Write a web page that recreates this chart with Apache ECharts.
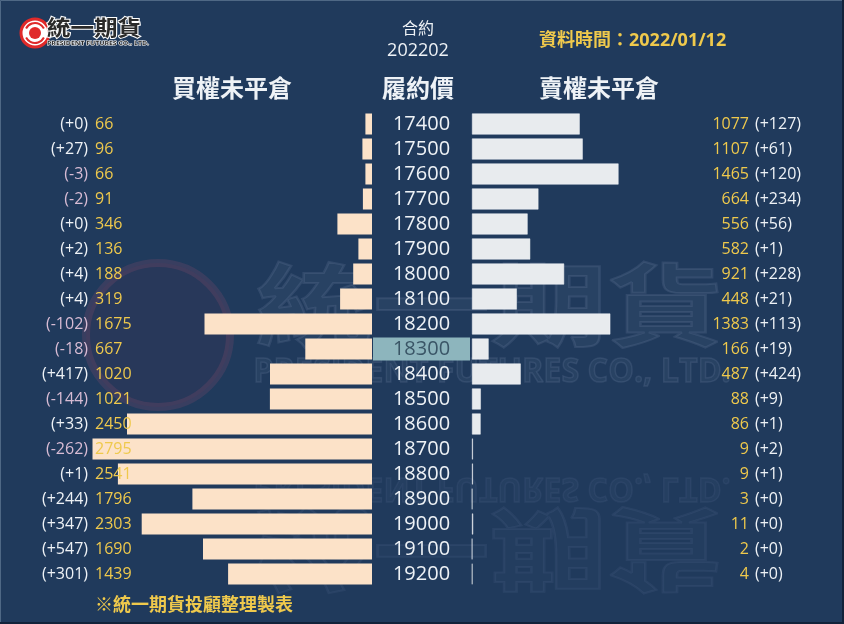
<!DOCTYPE html>
<html><head><meta charset="utf-8">
<script src="https://cdn.jsdelivr.net/npm/echarts@6/dist/echarts.min.js"></script>
<style>html,body{margin:0;padding:0;background:#203a5c;}#c{width:844px;height:624px;}</style>
</head><body><div id="c"></div>
<script>
const strikes = ['17400','17500','17600','17700','17800','17900','18000','18100','18200','18300','18400','18500','18600','18700','18800','18900','19000','19100','19200'];
const callOI  = [66,96,66,91,346,136,188,319,1675,667,1020,1021,2450,2795,2541,1796,2303,1690,1439];
const callChg = [0,27,-3,-2,0,2,4,4,-102,-18,417,-144,33,-262,1,244,347,547,301];
const putOI   = [1077,1107,1465,664,556,582,921,448,1383,166,487,88,86,9,9,3,11,2,4];
const putChg  = [127,61,120,234,56,1,228,21,113,19,424,9,1,2,1,0,0,0,0];
const atmStrike = '18300';
const contract = '202202';
const dataDate = '2022/01/12';

const FONT = "'Open Sans','Noto Sans CJK TC',sans-serif";
const CJK = "'Noto Sans CJK TC','Noto Sans',sans-serif";
const GOLD = '#efc94c';
const WHITE = '#eef2f6';
const NEG = '#d8bcd4';
const chgText = v => '(' + (v >= 0 ? '+' : '') + v + ')';

const chart = echarts.init(document.getElementById('c'), null, {renderer:'canvas'});
const TOP = 111.5, BOT = 37.5;
const hiddenY = (gi, extra) => Object.assign({
  type:'category', gridIndex:gi, data:strikes, inverse:true, z:10,
  axisLine:{show:false}, axisTick:{show:false}, splitLine:{show:false}
}, extra);

const option = {
  backgroundColor:'#203a5c',
  animation:false,
  grid:[
    {left:72, width:300, top:TOP, bottom:BOT},
    {left:472, width:300, top:TOP, bottom:BOT},
    {left:373, width:97, top:TOP, bottom:BOT}
  ],
  xAxis:[
    {type:'value', gridIndex:0, inverse:true, min:0, max:3000, show:false},
    {type:'value', gridIndex:1, min:0, max:3000, show:false},
    {type:'value', gridIndex:2, min:0, max:1, show:false}
  ],
  yAxis:[
    hiddenY(0, {position:'left', offset:-16, axisLabel:{margin:0, align:'right', fontFamily:FONT, fontSize:16,
      formatter:(v,i)=> (callChg[i] < 0 ? '{n|' : '{p|') + chgText(callChg[i]) + '}',
      rich:{p:{color:WHITE, fontFamily:FONT, fontSize:16}, n:{color:NEG, fontFamily:FONT, fontSize:16}}}}),
    hiddenY(0, {position:'left', offset:-23, axisLabel:{margin:0, align:'left', color:GOLD, fontFamily:FONT, fontSize:16,
      formatter:(v,i)=> String(callOI[i])}}),
    hiddenY(1, {position:'right', offset:-23, axisLabel:{margin:0, align:'right', color:GOLD, fontFamily:FONT, fontSize:16,
      formatter:(v,i)=> String(putOI[i])}}),
    hiddenY(1, {position:'right', offset:-17, axisLabel:{margin:0, align:'left', color:WHITE, fontFamily:FONT, fontSize:16,
      formatter:(v,i)=> chgText(putChg[i])}}),
    hiddenY(2, {axisLabel:{show:false}})
  ],
  series:[
    {type:'bar', xAxisIndex:0, yAxisIndex:0, data:callOI, barCategoryGap:'16%', z:2,
     itemStyle:{color:'#fce2c8'}, silent:true},
    {type:'bar', xAxisIndex:1, yAxisIndex:2, data:putOI, barCategoryGap:'16%', z:2,
     itemStyle:{color:'#e8ebee', borderColor:'#f4f6f8', borderWidth:0.5}, silent:true},
    {type:'bar', xAxisIndex:2, yAxisIndex:4, barCategoryGap:'8%', silent:true, z:2,
     data:strikes.map(s => ({value:1, itemStyle:{color: s===atmStrike ? '#8db5bd' : 'rgba(0,0,0,0)'},
        label:{color: s===atmStrike ? '#3a5566' : WHITE}})),
     label:{show:true, position:'inside', formatter:'{b}', fontFamily:FONT, fontSize:20}}
  ],
  graphic:[
    {type:'rect', silent:true, z:100, shape:{x:0.5,y:0.5,width:843,height:623}, style:{fill:'none', stroke:'#4f6885', lineWidth:1}},
    {type:'line', silent:true, z:101, shape:{x1:0,y1:623,x2:844,y2:623}, style:{stroke:'#12223a', lineWidth:2}},
    {type:'line', silent:true, z:101, shape:{x1:843,y1:0,x2:843,y2:624}, style:{stroke:'#12223a', lineWidth:2}},
    {type:'circle', silent:true, shape:{cx:35,cy:33,r:14}, style:{fill:'#ffffff', stroke:'#e02a2a', lineWidth:3}},
    {type:'circle', silent:true, shape:{cx:35,cy:33,r:6}, style:{fill:'#e02a2a'}},
    {type:'arc', silent:true, shape:{cx:35,cy:33,r:10,startAngle:Math.PI*1.15,endAngle:Math.PI*1.85}, style:{stroke:'#e02a2a', lineWidth:2, fill:'none'}},
    {type:'arc', silent:true, shape:{cx:35,cy:33,r:10,startAngle:Math.PI*0.15,endAngle:Math.PI*0.85}, style:{stroke:'#e02a2a', lineWidth:2, fill:'none'}},
    {type:'text', silent:true, x:47, y:27, style:{text:'統一期貨', fontFamily:CJK, fontSize:21, fontWeight:'bold', fill:'#2a2a2a', stroke:'#ffffff', lineWidth:2, verticalAlign:'middle', textAlign:'left'}, scaleX:1.12},
    {type:'text', silent:true, x:47, y:43, style:{text:'PRESIDENT FUTURES CO., LTD.', fontFamily:FONT, fontSize:6, fontWeight:'bold', fill:'#2a2a2a', stroke:'#ffffff', lineWidth:1, verticalAlign:'middle', textAlign:'left'}, scaleX:1.15},
    {type:'text', x:418, y:28, style:{text:'合約', fontFamily:CJK, fontSize:16, fill:WHITE, textAlign:'center', verticalAlign:'middle'}},
    {type:'text', x:418, y:51, style:{text:contract, fontFamily:FONT, fontSize:18, fill:WHITE, textAlign:'center', verticalAlign:'middle'}},
    {type:'text', x:539, y:41, style:{text:'資料時間：' + dataDate, fontFamily:FONT, fontSize:18, fontWeight:'bold', fill:GOLD, textAlign:'left', verticalAlign:'middle'}},
    {type:'text', x:232, y:88, style:{text:'買權未平倉', fontFamily:CJK, fontSize:24, fontWeight:'bold', fill:WHITE, textAlign:'center', verticalAlign:'middle'}},
    {type:'text', x:418, y:88, style:{text:'履約價', fontFamily:CJK, fontSize:24, fontWeight:'bold', fill:WHITE, textAlign:'center', verticalAlign:'middle'}},
    {type:'text', x:599, y:88, style:{text:'賣權未平倉', fontFamily:CJK, fontSize:24, fontWeight:'bold', fill:WHITE, textAlign:'center', verticalAlign:'middle'}},
    {type:'text', x:95, y:604, style:{text:'※統一期貨投顧整理製表', fontFamily:CJK, fontSize:18, fontWeight:'bold', fill:GOLD, textAlign:'left', verticalAlign:'middle'}},
    {type:'group', silent:true, z:50, children:[
      {type:'circle', shape:{cx:158,cy:335,r:72}, style:{fill:'rgba(120,40,80,0.10)', stroke:'rgba(190,90,120,0.16)', lineWidth:8}},
      {type:'text', x:490, y:305, style:{text:'統一期貨', fontFamily:CJK, fontSize:90, fontWeight:'bold', fill:'rgba(140,160,190,0.08)', stroke:'rgba(170,190,220,0.12)', lineWidth:2, textAlign:'center', verticalAlign:'middle'}, scaleX:1.3},
      {type:'text', x:492, y:372, style:{text:'PRESIDENT FUTURES CO., LTD.', fontFamily:FONT, fontSize:34, fontWeight:'bold', fill:'rgba(140,160,190,0.08)', stroke:'rgba(170,190,220,0.12)', lineWidth:1.5, textAlign:'center', verticalAlign:'middle'}, scaleX:0.95},
      {type:'text', x:492, y:488, scaleY:-1, style:{text:'PRESIDENT FUTURES CO., LTD.', fontFamily:FONT, fontSize:34, fontWeight:'bold', fill:'rgba(140,160,190,0.05)', stroke:'rgba(170,190,220,0.07)', lineWidth:1.5, textAlign:'center', verticalAlign:'middle'}, scaleX:0.95},
      {type:'text', x:490, y:550, scaleY:-1, style:{text:'統一期貨', fontFamily:CJK, fontSize:90, fontWeight:'bold', fill:'rgba(140,160,190,0.04)', stroke:'rgba(170,190,220,0.07)', lineWidth:2, textAlign:'center', verticalAlign:'middle'}, scaleX:1.3}
    ]}
  ]
};
chart.setOption(option);
</script></body></html>
